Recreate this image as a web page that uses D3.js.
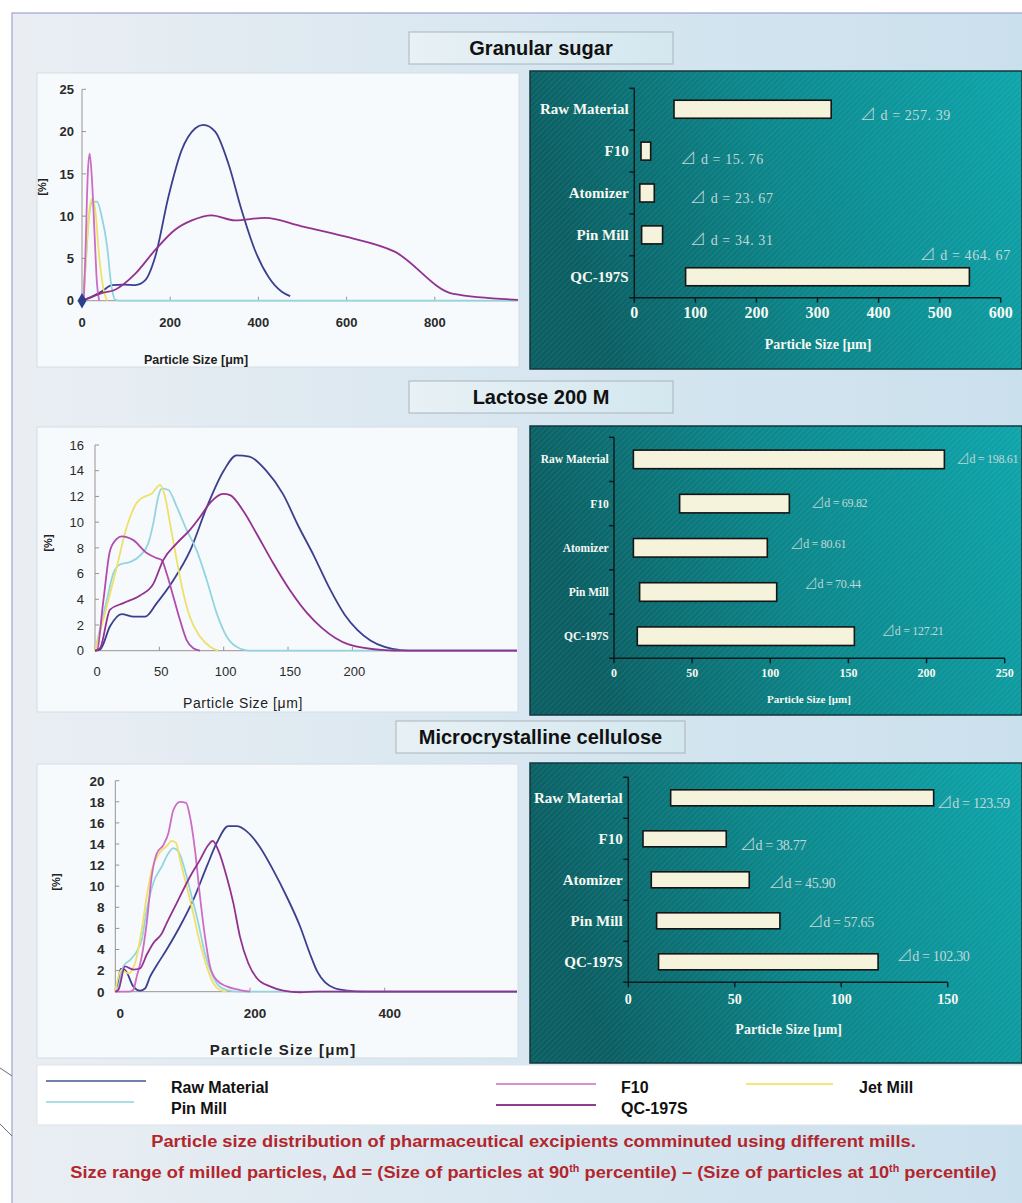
<!DOCTYPE html>
<html><head><meta charset="utf-8">
<script src="https://cdn.jsdelivr.net/npm/d3@7"></script>
<style>body{margin:0;background:#fff;} svg{display:block;}</style>
</head><body><svg id="c" width="1022" height="1203"></svg>
<script>
// ---------------- DATA ----------------
const seriesNames = ["Raw Material", "Pin Mill", "F10", "QC-197S", "Jet Mill"];

// Granular sugar distributions [size µm, %]
const sugarRaw = [[0,0],[20,0.4],[45,1.1],[68,1.85],[95,1.9],[121,1.85],[143,2.4],[166,5.2],[196,12.3],[226,17.8],[257,20.4],[275,20.8],[302,20],[332,16.2],[362,10.7],[392,6],[423,2.8],[453,1.06],[472,0.55]];
const sugarPin = [[0,0],[7.5,3.6],[15,9.5],[24,11.7],[34,11.7],[45,9.9],[57,6.4],[66,2],[75,0.15],[85,0],[989,0]];
const sugarF10 = [[4,0],[7.5,5.2],[13.6,15.5],[17.4,17.4],[22.6,14.3],[28.7,7.6],[34,2],[39,0]];
const sugarQC = [[0,0],[45,0.9],[75,1.3],[121,3.2],[166,6],[211,8.4],[249,9.5],[294,10.1],[347,9.5],[415,9.8],[498,8.8],[596,7.6],[709,5.8],[842,0.8],[989,0.1]];
const sugarJet = [[4,0],[11,6.8],[19,11.5],[24,12.1],[30,10.7],[39,5.2],[49,1.3],[57,0]];

// Lactose 200 M distributions
const lactoseRaw = [[0,0],[4,0.1],[11.7,1.9],[20.7,2.85],[30,2.65],[39,2.65],[48,3.7],[61,5.5],[74,7.8],[87,11.2],[100,14],[110,15.2],[120,15.1],[133,14.0],[146,12.2],[158,9.7],[170,7.4],[182,4.9],[194,2.8],[204,1.6],[214,0.8],[225,0.3],[238,0.05],[250,0],[330,0]];
const lactosePin = [[0,0],[9.1,3.9],[14.2,6.0],[19.4,6.7],[27.2,6.9],[35,7.4],[41.4,8.35],[45.3,9.9],[49.2,12.0],[51.8,12.6],[57,12.5],[63.5,11.2],[71.2,9.4],[79,7.8],[86.8,5.5],[94.6,2.9],[102.3,1.1],[110,0.3],[120.4,0],[330,0]];
const lactoseF10 = [[0,0],[1.3,0],[6.5,3.9],[11.7,7.8],[16.9,8.7],[20.7,8.9],[29.8,8.6],[40.2,7.6],[47.9,7.2],[51.8,7.05],[55.7,6.0],[60.9,4.2],[66,2.4],[71.2,0.83],[76.4,0.19],[81.6,0]];
const lactoseQC = [[0,0],[3.9,0.2],[11.7,3.2],[22,3.7],[35,4.3],[45.3,5.2],[53,7.05],[63.5,8.35],[73.8,9.4],[81.6,10.4],[89.4,11.5],[99.7,12.2],[105,12.1],[115,10.9],[125.6,9.1],[138.5,6.8],[151.5,4.7],[165,2.9],[176,1.8],[197,0.5],[225,0.05],[240,0],[330,0]];
const lactoseJet = [[0,0],[9.1,3.4],[16.9,6.5],[24.6,9.6],[32.4,11.5],[38.9,12.0],[44,12.2],[50.5,12.9],[54.4,12.0],[58.3,9.9],[63.5,7.05],[68.6,4.5],[73.8,2.6],[81.6,1.1],[89.4,0.3],[95.8,0]];

// Microcrystalline cellulose distributions
const celluloseRaw = [[0,0],[2.1,0.16],[8,2.15],[14.4,2.06],[26.7,0.5],[36.7,0.1],[44.1,0.3],[51.5,1.4],[61.5,2.5],[76.3,4.0],[96.1,6.2],[115.8,8.7],[135.7,11.85],[150.6,14.1],[167.8,15.7],[180.3,15.7],[195.2,15.2],[214.9,13.7],[234.7,11.5],[254.6,9.0],[274.3,6.2],[289,3.6],[300,1.9],[312,0.85],[325,0.35],[345,0.1],[370,0],[598,0]];
const cellulosePin = [[0,0],[4.5,0.5],[11.9,2.4],[21.8,3.0],[31.7,3.8],[39.2,4.9],[46.6,7.7],[56.4,10.3],[68.9,11.85],[78.7,13.1],[86.1,13.6],[93.6,13.3],[103.5,11.5],[113.5,9.0],[123.3,6.5],[133.2,3.6],[143.2,1.7],[153,0.6],[165.4,0.16],[185,0],[598,0]];
const celluloseF10 = [[0,0],[20,0],[26.7,0.16],[31.7,1.4],[39.2,3.3],[46.6,6.5],[54,10.9],[61.5,13.1],[71.3,13.9],[78.7,15.0],[86.1,17.2],[96.1,18.0],[105,17.9],[110.9,16.6],[118.4,13.4],[125.8,9.0],[133.2,5.2],[140.7,2.4],[150.6,1.1],[165.4,0.5],[185.2,0.16],[200,0]];
const celluloseQC = [[0,0],[4.5,0.16],[14.4,2.4],[26.7,2.1],[36.7,2.2],[46.6,3.5],[56.4,4.6],[68.9,5.5],[76.3,6.5],[91.2,8.4],[110.9,10.9],[125.8,12.5],[138.1,13.9],[144.6,14.3],[153,13.4],[165.4,10.9],[175.3,8.4],[185.2,5.2],[197.5,2.7],[210,1.3],[229.8,0.5],[249.5,0.1],[274.3,-0.05],[300,0],[598,0]];
const celluloseJet = [[0,0],[4.5,1.4],[9.5,2.06],[19.3,1.74],[29.3,2.7],[39.2,5.85],[46.6,9.0],[54,11.5],[63.9,13.0],[76.3,13.8],[83.8,14.3],[90.2,14.1],[96.1,12.5],[106,10.0],[115.8,7.4],[125.8,4.6],[135.7,2.4],[145.6,0.8],[155.5,0.16],[165.4,0]];

// Tick values
const sugarYTicks = [0,5,10,15,20,25];
const sugarXTicks = [0,200,400,600,800];
const lactoseYTicks = [0,2,4,6,8,10,12,14,16];
const lactoseXTicks = [0,50,100,150,200];
const celluloseYTicks = [0,2,4,6,8,10,12,14,16,18,20];
const celluloseXTicks = [0,200,400];

// Range bars (10th -> 90th percentile), µm
const barCategories = ["Raw Material","F10","Atomizer","Pin Mill","QC-197S"];
const sugarRangeStart = [65, 11, 9, 12, 84];
const sugarRangeEnd = [322.4, 26.8, 32.7, 46.3, 548.7];
const sugarDelta = [257.39, 15.76, 23.67, 34.31, 464.67];
const sugarBarTicks = [0,100,200,300,400,500,600];

const lactoseRangeStart = [12.4, 42, 12.4, 16.4, 14.9];
const lactoseRangeEnd = [211.4, 112.2, 98.1, 104.1, 153.8];
const lactoseDelta = [198.61, 69.82, 80.61, 70.44, 127.21];
const lactoseBarTicks = [0,50,100,150,200,250];

const celluloseRangeStart = [19.9, 6.9, 10.8, 13.3, 14.2];
const celluloseRangeEnd = [143.4, 46, 56.8, 71.2, 117.3];
const celluloseDelta = [123.59, 38.77, 45.90, 57.65, 102.30];
const celluloseBarTicks = [0,50,100,150];

// ---------------- STYLE / LAYOUT ----------------
const seriesColor = {"Raw Material":"#3b3f8e","Pin Mill":"#93d5de","F10":"#cc6cc4","QC-197S":"#93318f","Jet Mill":"#eee06a"};
const legendColor = {"Raw Material":"#6e82ab","Pin Mill":"#aadfe3","F10":"#d791cf","QC-197S":"#8f3d8f","Jet Mill":"#f1e878"};
const drawOrder = ["Raw Material","Pin Mill","Jet Mill","F10","QC-197S"];
const sansB = "'Liberation Sans', Arial, sans-serif";
const serif = "'Liberation Serif', 'Times New Roman', serif";
const deltaFamily = "'Liberation Serif', 'DejaVu Serif', serif";
const triFamily = "'Noto Sans CJK JP', 'DejaVu Sans', sans-serif";

const svg = d3.select("#c");
const defs = svg.append("defs");

const bg = defs.append("linearGradient").attr("id","bgGrad").attr("x1",0).attr("y1",0).attr("x2",1).attr("y2",0);
bg.append("stop").attr("offset",0).attr("stop-color","#eaeef3");
bg.append("stop").attr("offset",0.55).attr("stop-color","#d6e6f0");
bg.append("stop").attr("offset",1).attr("stop-color","#cbe0ed");

const tg = defs.append("linearGradient").attr("id","tealGrad").attr("x1",0).attr("y1",0.2).attr("x2",1).attr("y2",0);
tg.append("stop").attr("offset",0).attr("stop-color","#0b5e62");
tg.append("stop").attr("offset",0.45).attr("stop-color","#0c878b");
tg.append("stop").attr("offset",1).attr("stop-color","#0ea5ab");

const pat = defs.append("pattern").attr("id","stripes").attr("width",4).attr("height",4)
  .attr("patternUnits","userSpaceOnUse").attr("patternTransform","rotate(45)");
pat.append("line").attr("x1",0).attr("y1",0).attr("x2",0).attr("y2",4)
  .attr("stroke","rgba(255,255,255,0.15)").attr("stroke-width",1);

const titleGrad = defs.append("linearGradient").attr("id","titleGrad").attr("x1",0).attr("y1",0).attr("x2",1).attr("y2",0);
titleGrad.append("stop").attr("offset",0).attr("stop-color","#e8f1f5");
titleGrad.append("stop").attr("offset",1).attr("stop-color","#d3e7ef");

svg.append("rect").attr("x",12).attr("y",13).attr("width",1012).attr("height",1192)
  .attr("fill","url(#bgGrad)").attr("stroke","#9ea4d4").attr("stroke-width",1.2);

svg.append("path").attr("d","M0,1068 L12,1076 M0,1124 L12,1136").attr("stroke","#6a6a78").attr("stroke-width",1).attr("fill","none");

function sectionTitle(text, x0, y0, x1, y1) {
  svg.append("rect").attr("x",x0).attr("y",y0).attr("width",x1-x0).attr("height",y1-y0)
    .attr("fill","url(#titleGrad)").attr("stroke","#a9b4bc").attr("stroke-width",1);
  svg.append("text").attr("x",(x0+x1)/2).attr("y",(y0+y1)/2+7).attr("text-anchor","middle")
    .attr("font-family",sansB).attr("font-weight","bold").attr("font-size",20).attr("fill","#111").text(text);
}
sectionTitle("Granular sugar",409,32,673,64);
sectionTitle("Lactose 200 M",409,381,673,413);
sectionTitle("Microcrystalline cellulose",396,721,685,753);

// ---------- distribution charts ----------
function drawDist(o) {
  const g = svg.append("g");
  g.append("rect").attr("x",o.panel[0]).attr("y",o.panel[1]).attr("width",o.panel[2]-o.panel[0]).attr("height",o.panel[3]-o.panel[1])
    .attr("fill","#f7fafc").attr("stroke","#d3dee6");
  const x = d3.scaleLinear().domain(o.xDomain).range(o.xRange);
  const y = d3.scaleLinear().domain(o.yDomain).range(o.yRange);
  const axisCol = "#9a9292";
  g.append("line").attr("x1",x(0)).attr("x2",x(0)).attr("y1",y(o.yDomain[1])).attr("y2",y(0)).attr("stroke",axisCol);
  g.append("line").attr("x1",x(0)).attr("x2",o.panel[2]-1).attr("y1",y(0)).attr("y2",y(0)).attr("stroke",axisCol);
  g.selectAll(".yt").data(o.yTicks).join("line").attr("x1",x(0)).attr("x2",x(0)+4).attr("y1",d=>y(d)).attr("y2",d=>y(d)).attr("stroke",axisCol);
  g.selectAll(".xt").data(o.xTicks).join("line").attr("x1",d=>x(d)).attr("x2",d=>x(d)).attr("y1",y(0)).attr("y2",y(0)-4).attr("stroke",axisCol);
  g.selectAll(".yl").data(o.yTicks).join("text").attr("x",o.yLabelX).attr("y",d=>y(d)).attr("dy","0.36em")
    .attr("text-anchor","end").attr("font-family",sansB).attr("font-weight",o.tickWeight).attr("font-size",o.tickSize).attr("fill","#2a2a2a").text(d=>d);
  g.selectAll(".xl").data(o.xTicks).join("text").attr("x",d=>x(d)+o.xLabelDx).attr("y",o.xLabelY)
    .attr("text-anchor","middle").attr("font-family",sansB).attr("font-weight",o.tickWeight).attr("font-size",o.tickSize).attr("fill","#2a2a2a").text(d=>d);
  g.append("text").attr("transform",`translate(${o.pctPos[0]},${o.pctPos[1]}) rotate(-90)`).attr("text-anchor","middle")
    .attr("font-family",sansB).attr("font-weight","bold").attr("font-size",11).attr("fill","#222").text("[%]");
  g.append("text").attr("x",o.titlePos[0]).attr("y",o.titlePos[1]).attr("text-anchor","middle")
    .attr("font-family",sansB).attr("font-weight",o.titleWeight).attr("font-size",o.titleSize).attr("letter-spacing",o.titleSpacing||0)
    .attr("fill","#222").text("Particle Size [\u03bcm]");
  const clipId = "clip"+o.id;
  defs.append("clipPath").attr("id",clipId).append("rect").attr("x",o.panel[0]).attr("y",o.panel[1]).attr("width",o.panel[2]-o.panel[0]-1).attr("height",o.panel[3]-o.panel[1]);
  const line = d3.line().x(d=>x(d[0])).y(d=>y(d[1])).curve(d3.curveMonotoneX);
  const lg = g.append("g").attr("clip-path",`url(#${clipId})`);
  const colors = Object.assign({}, seriesColor, o.colorOverride||{});
  drawOrder.forEach(name => {
    lg.append("path").datum(o.series[name]).attr("d",line).attr("fill","none")
      .attr("stroke",colors[name]).attr("stroke-width",1.8).attr("stroke-linejoin","round");
  });
  if (o.marker) {
    g.append("path").attr("d",d3.symbol(d3.symbolDiamond,70)()).attr("transform",`translate(${x(0)},${y(0)})`).attr("fill","#2b3f8f");
  }
}

drawDist({id:"sugar", panel:[37,73,519,367], xDomain:[0,990], xRange:[82,518.6], yDomain:[0,25], yRange:[300.7,89.3],
  yTicks:sugarYTicks, xTicks:sugarXTicks, yLabelX:74, xLabelY:327, xLabelDx:0, tickSize:13, tickWeight:"bold",
  pctPos:[46,187], titlePos:[196,364], titleSize:12.5, titleWeight:"bold", marker:true,
  series:{"Raw Material":sugarRaw,"Pin Mill":sugarPin,"F10":sugarF10,"QC-197S":sugarQC,"Jet Mill":sugarJet}});

drawDist({id:"lactose", panel:[37,427,518,712], xDomain:[0,330], xRange:[95,519.7], yDomain:[0,16], yRange:[650.7,445],
  yTicks:lactoseYTicks, xTicks:lactoseXTicks, yLabelX:84, xLabelY:676, xLabelDx:2, tickSize:13, tickWeight:"normal",
  pctPos:[52,543], titlePos:[243,708], titleSize:14, titleWeight:"normal", titleSpacing:0.6, colorOverride:{"F10":"#b04cb0"},
  series:{"Raw Material":lactoseRaw,"Pin Mill":lactosePin,"F10":lactoseF10,"QC-197S":lactoseQC,"Jet Mill":lactoseJet}});

drawDist({id:"cellulose", panel:[37,764,518,1058], xDomain:[0,598], xRange:[115.3,518], yDomain:[0,20], yRange:[991.7,780.7],
  yTicks:celluloseYTicks, xTicks:celluloseXTicks, yLabelX:104.5, xLabelY:1018, xLabelDx:5, tickSize:13.5, tickWeight:"bold",
  pctPos:[60,882], titlePos:[283,1055], titleSize:15, titleWeight:"bold", titleSpacing:1.2,
  series:{"Raw Material":celluloseRaw,"Pin Mill":cellulosePin,"F10":celluloseF10,"QC-197S":celluloseQC,"Jet Mill":celluloseJet}});

// ---------- range bar charts ----------
function drawRange(o) {
  const g = svg.append("g");
  const [px0,py0,px1,py1] = o.panel;
  g.append("rect").attr("x",px0).attr("y",py0).attr("width",px1-px0).attr("height",py1-py0).attr("fill","url(#tealGrad)");
  g.append("rect").attr("x",px0).attr("y",py0).attr("width",px1-px0).attr("height",py1-py0).attr("fill","url(#stripes)")
    .attr("stroke","#15373b").attr("stroke-width",1.5);
  const x = d3.scaleLinear().domain(o.xDomain).range(o.xRange);
  const y = d3.scaleBand().domain(barCategories).range(o.yRange).padding(0);
  const bw = y.bandwidth(), bh = bw*o.barRatio;
  const axCol = "#0c1c1e";
  g.append("line").attr("x1",x(0)).attr("x2",x(0)).attr("y1",o.yRange[0]).attr("y2",o.yRange[1]).attr("stroke",axCol).attr("stroke-width",1.5);
  g.append("line").attr("x1",x(0)-5).attr("x2",x(o.xDomain[1])).attr("y1",o.yRange[1]).attr("y2",o.yRange[1]).attr("stroke",axCol).attr("stroke-width",1.5);
  g.selectAll(".bt").data(barCategories).join("line").attr("x1",x(0)-5).attr("x2",x(0)).attr("y1",d=>y(d)).attr("y2",d=>y(d)).attr("stroke",axCol).attr("stroke-width",1.5);
  g.selectAll(".xt").data(o.ticks).join("line").attr("x1",d=>x(d)).attr("x2",d=>x(d)).attr("y1",o.yRange[1]).attr("y2",o.yRange[1]+5).attr("stroke",axCol).attr("stroke-width",1.5);
  g.selectAll(".bar").data(barCategories).join("rect")
    .attr("x",(d,i)=>x(o.start[i])).attr("width",(d,i)=>x(o.end[i])-x(o.start[i]))
    .attr("y",d=>y(d)+(bw-bh)/2).attr("height",bh)
    .attr("fill","#f5f3dc").attr("stroke","#151515").attr("stroke-width",1.6);
  g.selectAll(".cl").data(barCategories).join("text").attr("x",o.catX).attr("y",d=>y(d)+bw/2).attr("dy","0.35em")
    .attr("text-anchor","end").attr("font-family",serif).attr("font-weight","bold").attr("font-size",o.catSize).attr("fill","#f6f8f2").text(d=>d);
  g.selectAll(".tl").data(o.ticks).join("text").attr("x",d=>x(d)).attr("y",o.tickY).attr("text-anchor","middle")
    .attr("font-family",serif).attr("font-weight","bold").attr("font-size",o.tickSize).attr("fill","#f6f8f2").text(d=>d);
  g.append("text").attr("x",o.titlePos[0]).attr("y",o.titlePos[1]).attr("text-anchor","middle")
    .attr("font-family",serif).attr("font-weight","bold").attr("font-size",o.titleSize).attr("fill","#f6f8f2").text("Particle Size [\u03bcm]");
  const dl = g.selectAll(".dl").data(barCategories).join("text")
    .attr("x",(d,i)=>x(o.labelAt[i][0])).attr("y",(d,i)=>y(d)+bw/2+o.labelAt[i][1])
    .attr("font-family",deltaFamily).attr("font-size",o.deltaSize).attr("letter-spacing",o.deltaSpacing)
    .attr("fill","#c2d8d8");
  dl.append("tspan").attr("font-family",triFamily).attr("font-weight","300").attr("font-size",o.deltaSize*1.15).text("\u22bf");
  dl.append("tspan").text((d,i)=>o.fmt(o.delta[i]));
}

drawRange({panel:[530,71,1022,369], xDomain:[0,600], xRange:[634.3,1000.7], yRange:[88.3,297.7], barRatio:0.43,
  start:sugarRangeStart, end:sugarRangeEnd, delta:sugarDelta, ticks:sugarBarTicks,
  catX:628.7, catSize:15, tickY:318.3, tickSize:16, titlePos:[818,349.3], titleSize:14,
  deltaSize:14, deltaSpacing:0.6, fmt:v=>" d = "+v.toFixed(2).replace(".",". "),
  labelAt:[[369,10.8],[75,12.9],[91,10],[91,10],[467,-16.8]]});

drawRange({panel:[530,426,1022,715], xDomain:[0,250], xRange:[614,1004.7], yRange:[437.3,658.3], barRatio:0.42,
  start:lactoseRangeStart, end:lactoseRangeEnd, delta:lactoseDelta, ticks:lactoseBarTicks,
  catX:608.7, catSize:11.5, tickY:676.7, tickSize:12, titlePos:[809,703.3], titleSize:11,
  deltaSize:12, deltaSpacing:-0.3, fmt:v=>"d = "+v.toFixed(2),
  labelAt:[[218.8,3.9],[125.9,3.1],[112.4,0],[121.6,-4.3],[171,-1.2]]});

drawRange({panel:[530,763,1022,1063], xDomain:[0,150], xRange:[628.3,947.7], yRange:[777.3,982.3], barRatio:0.39,
  start:celluloseRangeStart, end:celluloseRangeEnd, delta:celluloseDelta, ticks:celluloseBarTicks,
  catX:622.7, catSize:15, tickY:1004, tickSize:14, titlePos:[788.7,1034], titleSize:14,
  deltaSize:14, deltaSpacing:-0.3, fmt:v=>"d = "+v.toFixed(2),
  labelAt:[[144.7,10.5],[52.3,11.2],[65.9,8.5],[84.1,6.5],[125.9,-1.1]]});

// ---------- legend ----------
svg.append("rect").attr("x",37).attr("y",1065).attr("width",990).attr("height",60).attr("fill","#ffffff").attr("stroke","#dde3e8");
const legendLayout = {"Raw Material":[46,146,1081,171,1093],"Pin Mill":[46,134,1102,171,1114],
  "F10":[496,596,1084,621,1093],"QC-197S":[496,596,1105,621,1114],"Jet Mill":[746,833,1084,859,1093]};
seriesNames.forEach(name=>{
  const L = legendLayout[name];
  svg.append("line").attr("x1",L[0]).attr("x2",L[1]).attr("y1",L[2]).attr("y2",L[2]).attr("stroke",legendColor[name]).attr("stroke-width",2);
  svg.append("text").attr("x",L[3]).attr("y",L[4]).attr("font-family",sansB).attr("font-weight","bold").attr("font-size",16).attr("fill","#111").text(name);
});

// ---------- captions ----------
function fitCaption(build, cx, by, targetW) {
  const t = svg.append("text").attr("text-anchor","middle").attr("font-family",sansB).attr("font-weight","bold")
    .attr("font-size",17).attr("fill","#b3262c");
  build(t);
  const w = t.node().getComputedTextLength();
  t.attr("transform",`translate(${cx},${by}) scale(${targetW/w},1)`);
}
fitCaption(t=>t.text("Particle size distribution of pharmaceutical excipients comminuted using different mills."), 533.5, 1147, 765);
fitCaption(t=>{
  t.append("tspan").text("Size range of milled particles, \u0394d = (Size of particles at 90");
  t.append("tspan").attr("font-size",10).attr("dy",-6).text("th");
  t.append("tspan").attr("dy",6).text(" percentile) \u2013 (Size of particles at 10");
  t.append("tspan").attr("font-size",10).attr("dy",-6).text("th");
  t.append("tspan").attr("dy",6).text(" percentile)");
}, 533.5, 1178, 927);
</script></body></html>
